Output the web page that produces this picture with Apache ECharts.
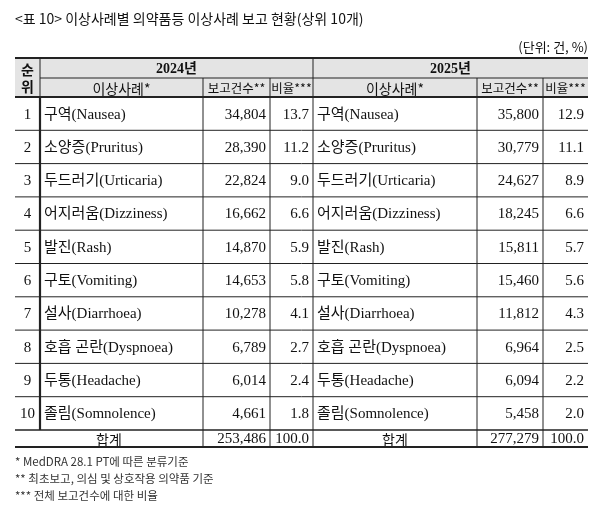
<!DOCTYPE html>
<html><head><meta charset="utf-8">
<script src="https://cdn.jsdelivr.net/npm/echarts@6/dist/echarts.min.js"></script>
<style>html,body{margin:0;padding:0;background:#fff}#c{width:600px;height:510px}</style>
</head><body><div id="c"></div>
<script>
const title = '<표 10> 이상사례별 의약품등 이상사례 보고 현황(상위 10개)';
const unit = '(단위: 건, %)';
const ranks = ['1','2','3','4','5','6','7','8','9','10'];
const events2024 = ['구역(Nausea)','소양증(Pruritus)','두드러기(Urticaria)','어지러움(Dizziness)','발진(Rash)','구토(Vomiting)','설사(Diarrhoea)','호흡 곤란(Dyspnoea)','두통(Headache)','졸림(Somnolence)'];
const counts2024 = ['34,804','28,390','22,824','16,662','14,870','14,653','10,278','6,789','6,014','4,661'];
const ratios2024 = ['13.7','11.2','9.0','6.6','5.9','5.8','4.1','2.7','2.4','1.8'];
const events2025 = ['구역(Nausea)','소양증(Pruritus)','두드러기(Urticaria)','어지러움(Dizziness)','발진(Rash)','구토(Vomiting)','설사(Diarrhoea)','호흡 곤란(Dyspnoea)','두통(Headache)','졸림(Somnolence)'];
const counts2025 = ['35,800','30,779','24,627','18,245','15,811','15,460','11,812','6,964','6,094','5,458'];
const ratios2025 = ['12.9','11.1','8.9','6.6','5.7','5.6','4.3','2.5','2.2','2.0'];
const total2024 = ['253,486','100.0'];
const total2025 = ['277,279','100.0'];
const years = ['2024년','2025년'];
const subHeaders = ['이상사례*','보고건수**','비율***'];
const notes = ['* MedDRA 28.1 PT에 따른 분류기준','** 최초보고, 의심 및 상호작용 의약품 기준','*** 전체 보고건수에 대한 비율'];

const X = [15,40,203,270,313,477,543,588];
const H0=58,H1=78,H2=97,RH=33.3,T0=H2+RH*10,T1=447;
const FF = '"Liberation Serif","Noto Sans CJK KR",serif';
const cells = [];
function cell(x0,x1,y0,y1,text,align,opt){cells.push(Object.assign({x0,x1,y0,y1,text,align:align||'center',size:15,font:FF},opt||{}));}
cell(X[0],X[7],H0,H2,'', 'center',{bg:'#e4e4e4'});
cell(X[0],X[1],H0,H2,'순\n위','center',{size:14,font:'"Noto Sans CJK KR"',lh:17,bold:true});
cell(X[1],X[4],H0,H1,years[0],'center',{size:14,bold:true});
cell(X[4],X[7],H0,H1,years[1],'center',{size:14,bold:true});
[[1,2,3],[4,5,6]].forEach(g=>{
  g.forEach((c,k)=>cell(X[c],X[c+1],H1,H2,subHeaders[k],'center',{size:k===0?14:12.5,font:'"Noto Sans CJK KR"'}));
});
ranks.forEach((r,i)=>{
  const y0=H2+RH*i,y1=y0+RH;
  cell(X[0],X[1],y0,y1,r,'center');
  cell(X[1],X[2],y0,y1,events2024[i],'left');
  cell(X[2],X[3],y0,y1,counts2024[i],'right');
  cell(X[3],X[4],y0,y1,ratios2024[i],'right');
  cell(X[4],X[5],y0,y1,events2025[i],'left');
  cell(X[5],X[6],y0,y1,counts2025[i],'right');
  cell(X[6],X[7],y0,y1,ratios2025[i],'right');
});
cell(X[0],X[2],T0,T1,'합계','center',{font:'"Noto Sans CJK KR"',size:14});
cell(X[2],X[3],T0,T1,total2024[0],'right');
cell(X[3],X[4],T0,T1,total2024[1],'right');
cell(X[4],X[5],T0,T1,'합계','center',{font:'"Noto Sans CJK KR"',size:14});
cell(X[5],X[6],T0,T1,total2025[0],'right');
cell(X[6],X[7],T0,T1,total2025[1],'right');
cell(X[0],X[7],5,30,title,'left',{size:14,font:'"Noto Sans CJK KR"',pad:0});
cell(X[0],X[7],36,56,unit,'right',{size:13,font:'"Noto Sans CJK KR"',pad:0});
notes.forEach((n,i)=>cell(X[0],X[7],452+i*17,469+i*17,n,'left',{size:11.5,font:'"Noto Sans CJK KR"',pad:0,color:'#333'}));

const lines = [];
function ln(x0,y0,x1,y1,w){lines.push({x0,y0,x1,y1,w});}
ln(X[0],H0,X[7],H0,2);
ln(X[1],H1,X[7],H1,1);
ln(X[0],H2,X[7],H2,2);
for(let i=1;i<10;i++) ln(X[0],H2+RH*i,X[7],H2+RH*i,1);
ln(X[0],T0,X[7],T0,1.6);
ln(X[0],T1,X[7],T1,2);
ln(X[1],H0,X[1],H2,1); ln(X[1],H2,X[1],T0,2.2);
ln(X[4],H0,X[4],T1,1);
[2,3,5,6].forEach(c=>ln(X[c],H1,X[c],T1,1));

const chart = echarts.init(document.getElementById('c'));
chart.setOption({
  animation:false,
  grid:{left:0,right:0,top:0,bottom:0},
  xAxis:{type:'value',min:0,max:600,show:false},
  yAxis:{type:'value',min:0,max:510,inverse:true,show:false},
  series:[{
    type:'custom',coordinateSystem:'cartesian2d',
    data:cells.map((c,i)=>[c.x0,c.y0,c.x1,c.y1,i]),
    renderItem:(p,api)=>{
      const c=cells[api.value(4)];
      const a=api.coord([api.value(0),api.value(1)]), b=api.coord([api.value(2),api.value(3)]);
      const ch=[];
      if(c.bg) ch.push({type:'rect',shape:{x:a[0],y:a[1],width:b[0]-a[0],height:b[1]-a[1]},style:{fill:c.bg}});
      if(c.text){
        const pad=c.pad===undefined?4:c.pad;
        const tx=c.align==='left'?a[0]+pad:c.align==='right'?b[0]-pad:(a[0]+b[0])/2;
        ch.push({type:'text',style:{x:tx,y:(a[1]+b[1])/2+1,text:c.text,align:c.align,verticalAlign:'middle',
          fontSize:c.size,fontFamily:c.font,fontWeight:c.bold?'bold':'normal',fill:c.color||'#111',lineHeight:c.lh||c.size*1.2}});
      }
      return {type:'group',children:ch};
    },z:1
  },{
    type:'custom',coordinateSystem:'cartesian2d',
    data:lines.map((l,i)=>[l.x0,l.y0,l.x1,l.y1,i]),
    renderItem:(p,api)=>{
      const l=lines[api.value(4)];
      const a=api.coord([api.value(0),api.value(1)]), b=api.coord([api.value(2),api.value(3)]);
      return {type:'line',shape:{x1:a[0],y1:a[1],x2:b[0],y2:b[1]},style:{stroke:'#222',lineWidth:l.w}};
    },z:2
  }]
});
</script></body></html>
